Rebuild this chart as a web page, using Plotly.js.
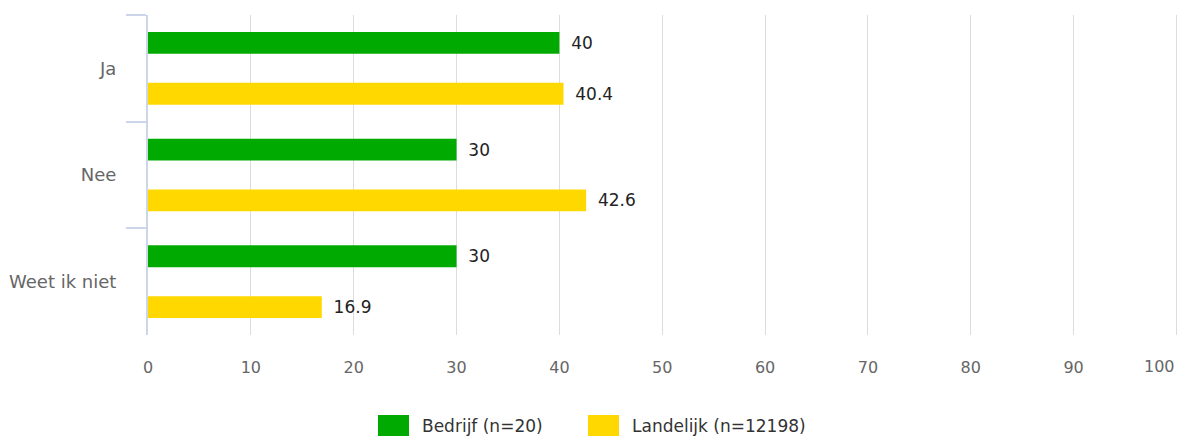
<!DOCTYPE html>
<html>
<head>
<meta charset="utf-8">
<script src="https://cdn.plot.ly/plotly-3.0.1.min.js"></script>
<style>html,body{margin:0;padding:0;background:#fff}#chart{width:1183px;height:437px}</style>
</head>
<body>
<div id="chart"></div>
<script>
const categories = ["Ja", "Nee", "Weet ik niet"];
const seriesNames = ["Bedrijf (n=20)", "Landelijk (n=12198)"];
const bedrijf = [40, 30, 30];
const landelijk = [40.4, 42.6, 16.9];
const xTicks = [0, 10, 20, 30, 40, 50, 60, 70, 80, 90, 100];

const colors = ["#00AA00", "#FFD800"];
const FONT = "DejaVu Sans, Liberation Sans, Arial, sans-serif";

function barTrace(name, vals, color) {
  return {
    type: "bar", orientation: "h", name: name,
    y: categories, x: vals,
    marker: {color: color, line: {width: 0}},
    text: vals.map(v => String(v)),
    texttemplate: "\u00a0\u2009%{text}",
    textposition: "outside",
    cliponaxis: false,
    textfont: {family: FONT, size: 17, color: "#222"},
    hoverinfo: "skip"
  };
}

const data = [
  barTrace(seriesNames[0], bedrijf, colors[0]),
  barTrace(seriesNames[1], landelijk, colors[1])
];

const L = 148, W = 1030, T = 15, H = 320;
const px = v => (v - L) / W;
const py = v => (T + H - v) / H;

// custom legend (large swatches)
const legendItems = [
  {x0: 378, x1: 409, tx: 420},
  {x0: 588, x1: 619, tx: 630}
];
const shapes = legendItems.map((it, i) => ({
  type: "rect", xref: "paper", yref: "paper",
  x0: px(it.x0), x1: px(it.x1), y0: py(415), y1: py(436),
  fillcolor: colors[i], line: {width: 0}
}));
const annotations = legendItems.map((it, i) => ({
  xref: "paper", yref: "paper", x: px(it.tx), y: py(426),
  xanchor: "left", yanchor: "middle", showarrow: false,
  text: seriesNames[i],
  font: {family: FONT, size: 17, color: "#333"}
}));
// last tick label kept inside the chart, like the original
const lastTick = xTicks[xTicks.length - 1];
annotations.push({
  xref: "x", yref: "paper", x: lastTick, y: py(366),
  xanchor: "right", yanchor: "middle", showarrow: false, xshift: 1,
  text: String(lastTick),
  font: {family: FONT, size: 16, color: "#666"}
});

const layout = {
  width: 1183, height: 437,
  margin: {l: L, r: 1183 - L - W, t: T, b: 437 - T - H},
  paper_bgcolor: "#fff", plot_bgcolor: "#fff",
  barmode: "group", bargap: 0.047, bargroupgap: 0.569,
  showlegend: false,
  font: {family: FONT, size: 16, color: "#666"},
  xaxis: {
    range: [0, 100.15], tickvals: xTicks,
    ticktext: xTicks.map((t, i) => i === xTicks.length - 1 ? "" : String(t)),
    showgrid: true, gridcolor: "#dcdcdc", gridwidth: 1,
    zeroline: false, showline: false,
    ticks: "outside", ticklen: 18, tickcolor: "rgba(0,0,0,0)",
    tickfont: {family: FONT, size: 16, color: "#666"},
    fixedrange: true
  },
  yaxis: {
    type: "category", autorange: "reversed",
    showgrid: false, zeroline: false,
    showline: true, linecolor: "#ccd6eb", linewidth: 2,
    ticks: "outside", tickson: "boundaries", ticklen: 20, tickcolor: "#ccd6eb", tickwidth: 2,
    ticklabelstandoff: 26,
    tickfont: {family: FONT, size: 18, color: "#666"},
    fixedrange: true
  },
  shapes: shapes,
  annotations: annotations
};

Plotly.newPlot("chart", data, layout, {displayModeBar: false, staticPlot: true});
</script>
</body>
</html>
